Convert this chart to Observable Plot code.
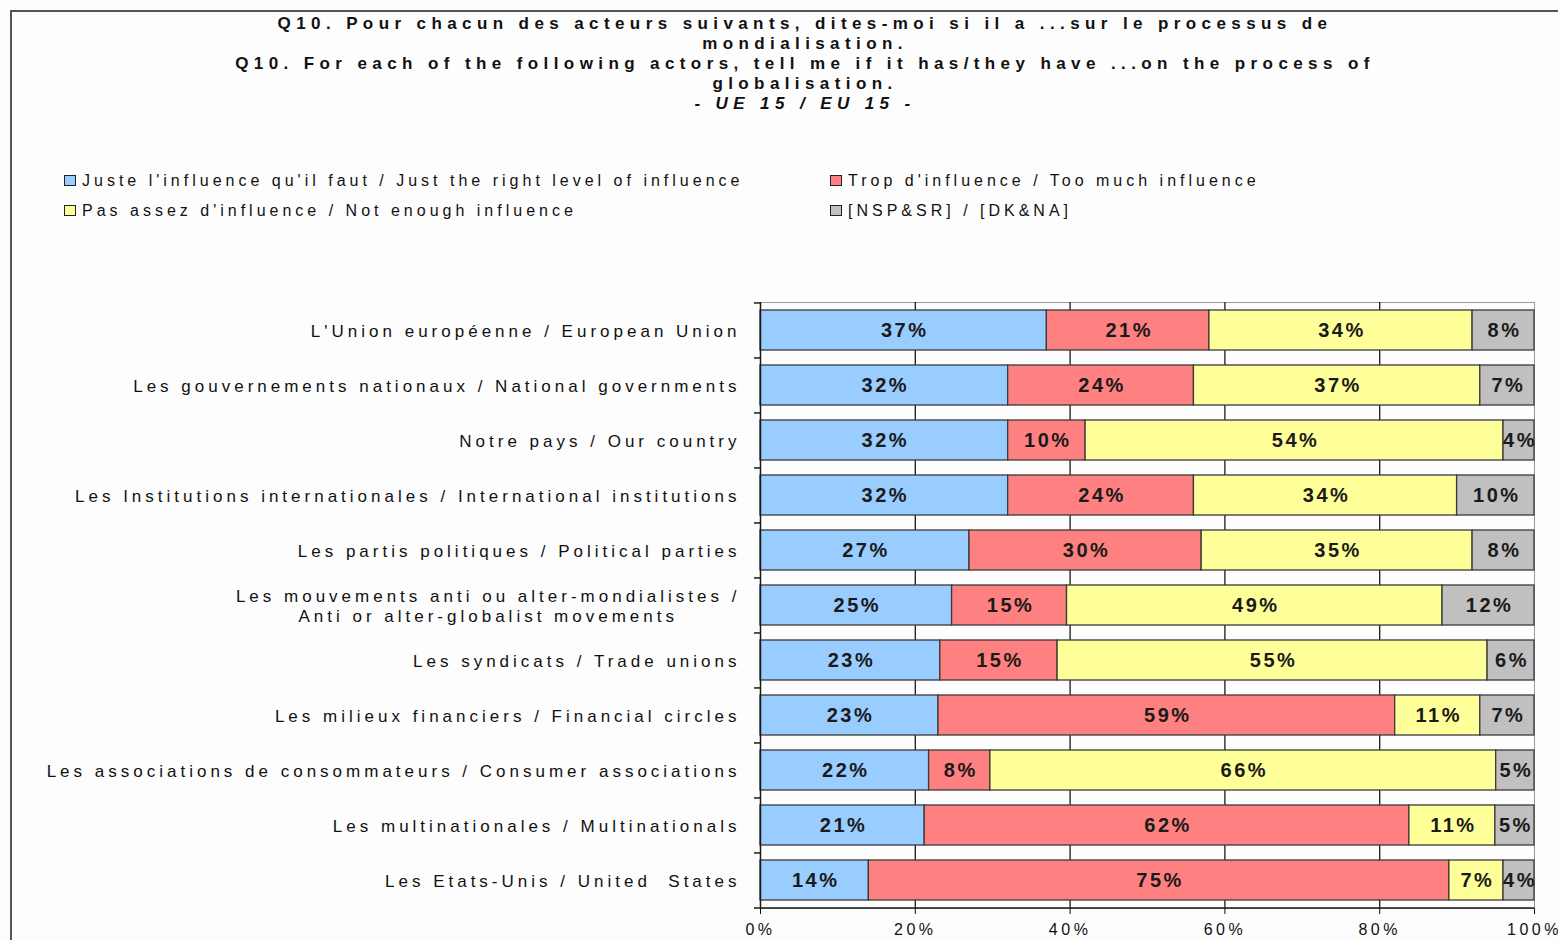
<!DOCTYPE html>
<html><head><meta charset="utf-8">
<script src="https://cdn.jsdelivr.net/npm/d3@7"></script>
<script src="https://cdn.jsdelivr.net/npm/@observablehq/plot@0.6"></script>
<style>
body{margin:0;background:#fff;font-family:"Liberation Sans",Arial,sans-serif;}
#page{position:relative;width:1558px;height:940px;overflow:hidden;background:#fdfdfd;}
#frame{position:absolute;left:10px;top:10px;width:1600px;height:1000px;border-left:2px solid #555;border-top:2px solid #555;}
#title{position:absolute;left:0;width:1610px;top:14px;text-align:center;font-weight:bold;font-size:17px;line-height:20px;letter-spacing:5.4px;color:#111;}
#title .it{font-style:italic;}
.leg{position:absolute;font-size:16px;letter-spacing:4px;color:#111;white-space:nowrap;line-height:18px;}
.sw{display:inline-block;width:10px;height:9px;border:1px solid #222;margin-right:6px;vertical-align:0px;}
#chart{position:absolute;left:0;top:240px;}
#chart [aria-label="y-axis tick label"]{letter-spacing:4px;}
#chart [aria-label="x-axis tick label"]{letter-spacing:3.5px;}
#chart [aria-label="text"]{letter-spacing:2.5px;}
</style></head>
<body><div id="page"><div id="frame"></div>
<div id="title"></div>
<div id="chart"></div>
</div>
<script>
const titleLines = [
  "Q10. Pour chacun des acteurs suivants, dites-moi si il a ...sur le processus de",
  "mondialisation.",
  "Q10. For each of the following actors, tell me if it has/they have ...on the process of",
  "globalisation."
];
const subtitle = "- UE 15 / EU 15 -";

const actors = [
  "L'Union européenne / European Union",
  "Les gouvernements nationaux / National governments",
  "Notre pays / Our country",
  "Les Institutions internationales / International institutions",
  "Les partis politiques / Political parties",
  "Les mouvements anti ou alter-mondialistes /\nAnti or alter-globalist movements",
  "Les syndicats / Trade unions",
  "Les milieux financiers / Financial circles",
  "Les associations de consommateurs / Consumer associations",
  "Les multinationales / Multinationals",
  "Les Etats-Unis / United  States"
];
const responses = [
  "Juste l'influence qu'il faut / Just the right level of influence",
  "Trop d'influence / Too much influence",
  "Pas assez d'influence / Not enough influence",
  "[NSP&SR] / [DK&NA]"
];
const colors = ["#99CCFF", "#FF8080", "#FFFF99", "#C0C0C0"];
const justRight = [37, 32, 32, 32, 27, 25, 23, 23, 22, 21, 14];
const tooMuch   = [21, 24, 10, 24, 30, 15, 15, 59, 8, 62, 75];
const notEnough = [34, 37, 54, 34, 35, 49, 55, 11, 66, 11, 7];
const dkna      = [8, 7, 4, 10, 8, 12, 6, 7, 5, 5, 4];
const xTicks = [0, 0.2, 0.4, 0.6, 0.8, 1];

// title
const t = document.getElementById("title");
t.innerHTML = titleLines.map(s => `<div>${s.replace(/&/g,"&amp;")}</div>`).join("") + `<div class="it">${subtitle}</div>`;

// legend (2 columns x 2 rows, row-major)
const legPos = [[64,172],[830,172],[64,202],[830,202]];
const page = document.getElementById("page");
responses.forEach((r, i) => {
  const d = document.createElement("div");
  d.className = "leg";
  d.style.left = legPos[i][0] + "px";
  d.style.top = legPos[i][1] + "px";
  d.innerHTML = `<span class="sw" style="background:${colors[i]}"></span>` + r.replace(/&/g,"&amp;");
  page.appendChild(d);
});

const series = [justRight, tooMuch, notEnough, dkna];
const data = [];
actors.forEach((a, i) => responses.forEach((r, j) => data.push({actor: a, resp: r, value: series[j][i]})));

const W = 1558, H = 700, mt = 62, mb = 32, ml = 760, mr = 24;
const step = (H - mt - mb) / actors.length;

const stackOpts = {offset: "normalize", order: responses};

const plot = Plot.plot({
  width: W, height: H,
  marginTop: mt, marginBottom: mb, marginLeft: ml, marginRight: mr,
  style: {fontFamily: "'Liberation Sans', Arial, sans-serif", fontSize: "16px", color: "#111", background: "transparent"},
  x: {domain: [0, 1]},
  y: {domain: actors, paddingInner: 0.27, paddingOuter: 0.135},
  color: {domain: responses, range: colors},
  marks: [
    Plot.frame({stroke: "#9a9a9a"}),
    Plot.ruleX(xTicks.slice(1, -1), {stroke: "#1a1a1a", strokeWidth: 1.3}),
    Plot.barX(data, Plot.stackX(stackOpts, {x: "value", y: "actor", fill: "resp", stroke: "#3a3a3a", strokeWidth: 1.3})),
    Plot.text(data, Plot.stackX(stackOpts, {x: "value", y: "actor", z: "resp", text: d => d.value + "%", fontSize: 20, fontWeight: "bold", fill: "#1a1a1a", dx: 1})),
    Plot.ruleX([0], {stroke: "#1a1a1a", strokeWidth: 1.5}),
    Plot.ruleY(actors, {y: d => d, x1: 0, x2: 0, insetLeft: -6, dy: -step / 2, stroke: "#1a1a1a", strokeWidth: 1.5}),
    Plot.ruleY(actors.slice(-1), {y: d => d, x1: 0, x2: 1, insetLeft: -6, dy: step / 2, stroke: "#1a1a1a", strokeWidth: 1.5}),
    Plot.axisY({tickSize: 0, tickPadding: 20, label: null, fontSize: 17, lineHeight: 1.2}),
    Plot.axisX({ticks: xTicks, tickSize: 6, tickPadding: 9, tickFormat: d3.format(".0%"), label: null, fontSize: 16})
  ]
});
document.getElementById("chart").appendChild(plot);

// center multi-line category labels relative to each other
plot.querySelectorAll('[aria-label="y-axis tick label"] text').forEach(txt => {
  const spans = txt.querySelectorAll("tspan");
  if (spans.length > 1) {
    const ws = Array.from(spans, s => s.getComputedTextLength());
    const maxW = Math.max(...ws);
    spans.forEach(s => { s.setAttribute("x", -maxW / 2); s.style.textAnchor = "middle"; });
  }
});
</script>
</body></html>
